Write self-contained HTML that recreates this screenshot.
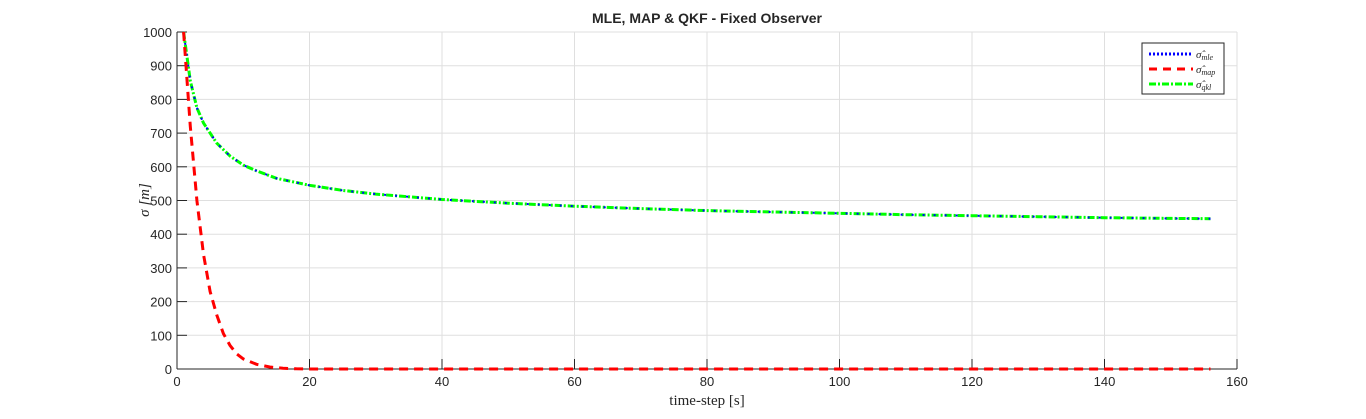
<!DOCTYPE html>
<html><head><meta charset="utf-8"><style>
body{margin:0;background:#fff;width:1366px;height:414px;overflow:hidden}
svg text{font-family:"Liberation Sans",Arial,sans-serif}
</style></head><body>
<svg id="chart" width="1366" height="414">
<rect x="0" y="0" width="1366" height="414" fill="#fff"/>
<g id="grid"></g>
<g id="axes"></g>
<g id="series"></g>
<text x="707" y="23" text-anchor="middle" font-size="14" font-weight="bold" fill="#262626">MLE, MAP &amp; QKF  - Fixed Observer</text>
<text x="707" y="405" text-anchor="middle" font-size="15" fill="#262626" style="font-family:'Liberation Serif',serif">time-step [s]</text>
<text transform="translate(149,200) rotate(-90)" text-anchor="middle" font-size="15" fill="#262626" style="font-family:'Liberation Serif',serif;font-style:italic">σ [m]</text>
<g>
<rect x="1142" y="43" width="82" height="51" fill="#fff" stroke="#262626" stroke-width="1"/>
<line x1="1149" y1="54" x2="1193" y2="54" stroke="#0000ff" stroke-width="3" stroke-dasharray="2,2"/>
<line x1="1149" y1="69" x2="1193" y2="69" stroke="#ff0000" stroke-width="3" stroke-dasharray="8,6"/>
<line x1="1149" y1="84" x2="1193" y2="84" stroke="#00ff00" stroke-width="3" stroke-dasharray="7,2,2,2"/>
<text x="1196" y="58" font-size="11" font-style="italic" style="font-family:'Liberation Serif',serif" fill="#262626">σ̂<tspan font-size="8" dy="2">mle</tspan></text>
<text x="1196" y="73" font-size="11" font-style="italic" style="font-family:'Liberation Serif',serif" fill="#262626">σ̂<tspan font-size="8" dy="2">map</tspan></text>
<text x="1196" y="88" font-size="11" font-style="italic" style="font-family:'Liberation Serif',serif" fill="#262626">σ̂<tspan font-size="8" dy="2">qkl</tspan></text>
</g>
</svg>
<script>
const xTicks=[0,20,40,60,80,100,120,140,160];
const yTicks=[0,100,200,300,400,500,600,700,800,900,1000];
const mleT=[1,2,3,4,5,6,8,10,12,15,20,25,30,40,50,60,70,80,90,100,110,120,130,140,150,156];
const mleV=[1000,855,775,730,700,670,632,605,588,566,545,530,519,503,492,483,476,470,466,462,458,455,452,449,447,446];
const mapT=[1,2,3,4,5,6,7,8,9,10,12,14,16,18,20,156];
const mapV=[1000,720,500,340,230,160,105,70,45,30,14,6,2,0.5,0,0];
const X0=177,X1=1237,Y0=369,Y1=32;
const sx=v=>X0+(v-0)/(160-0)*(X1-X0);
const sy=v=>Y0-(v-0)/(1000-0)*(Y0-Y1);
const NS="http://www.w3.org/2000/svg";
function mk(tag,attrs,parent){const e=document.createElementNS(NS,tag);for(const k in attrs)e.setAttribute(k,attrs[k]);parent.appendChild(e);return e;}
const grid=document.getElementById('grid'),axes=document.getElementById('axes'),series=document.getElementById('series');
xTicks.forEach(t=>{
 const g=mk('line',{x1:sx(t),x2:sx(t),y1:Y1,y2:Y0,stroke:'#dfdfdf','stroke-width':1},grid);
 
 
 const tk=mk('line',{x1:sx(t),x2:sx(t),y1:Y0,y2:Y0-10,stroke:'#262626','stroke-width':1},axes);
 
 
 const lb=mk('text',{x:sx(t),y:Y0+17,'text-anchor':'middle','font-size':13,fill:'#262626'},axes);
 lb.textContent=t;
 
 
});
yTicks.forEach(t=>{
 const g=mk('line',{x1:X0,x2:X1,y1:sy(t),y2:sy(t),stroke:'#dfdfdf','stroke-width':1},grid);
 
 
 const tk=mk('line',{x1:X0,x2:X0+10,y1:sy(t),y2:sy(t),stroke:'#262626','stroke-width':1},axes);
 
 
 const lb=mk('text',{x:X0-5,y:sy(t)+5,'text-anchor':'end','font-size':13,fill:'#262626'},axes);
 lb.textContent=t;
 
 
});
const xa=mk('line',{x1:X0,x2:X1,y1:Y0,y2:Y0,stroke:'#262626','stroke-width':1},axes);


const ya=mk('line',{x1:X0,x2:X0,y1:Y1,y2:Y0,stroke:'#262626','stroke-width':1},axes);


function pts(T,V){return T.map((t,i)=>sx(t).toFixed(1)+','+sy(V[i]).toFixed(1)).join(' ');}
const qkf=mk('polyline',{points:pts(mleT,mleV),fill:'none',stroke:'#00ff00','stroke-width':3,'stroke-dasharray':'7,2,2,2'},series);


const mle=mk('polyline',{points:pts(mleT,mleV),fill:'none',stroke:'#0000ff','stroke-width':2,'stroke-dasharray':'2,9'},series);


const map=mk('polyline',{points:pts(mapT,mapV),fill:'none',stroke:'#ff0000','stroke-width':3,'stroke-dasharray':'9,6'},series);


</script>
</body></html>
